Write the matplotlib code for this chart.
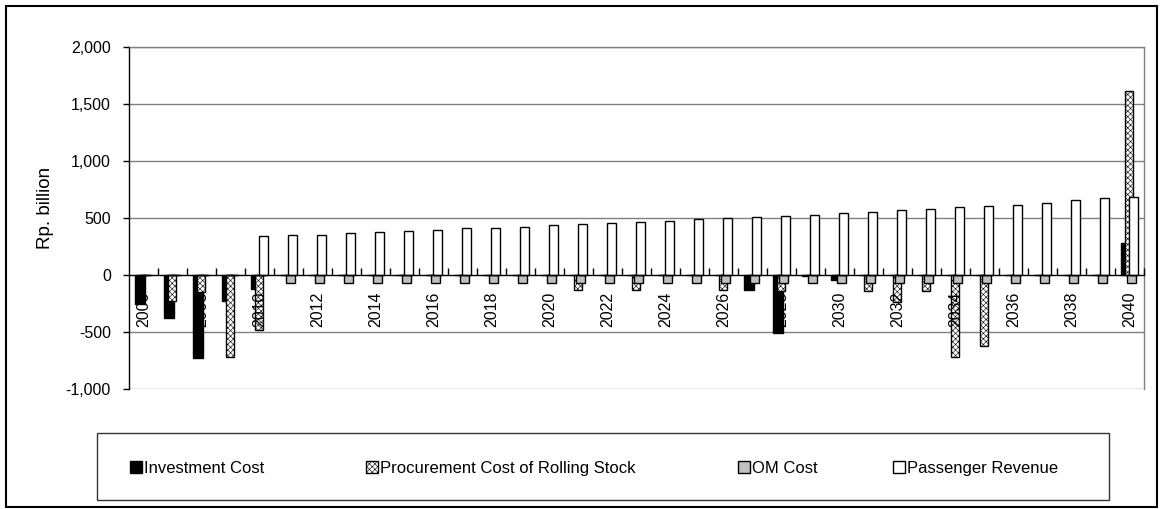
import matplotlib
matplotlib.use('Agg')
import matplotlib.pyplot as plt
from matplotlib import font_manager
from matplotlib.patches import Rectangle
import numpy as np

# ---------------- data ----------------
years = [2006, 2007, 2008, 2009, 2010, 2011, 2012, 2013, 2014, 2015,
         2016, 2017, 2018, 2019, 2020, 2021, 2022, 2023, 2024, 2025,
         2026, 2027, 2028, 2029, 2030, 2031, 2032, 2033, 2034, 2035,
         2036, 2037, 2038, 2039, 2040]

investment_cost = [-255, -375, -730, -230, -120, 0, 0, 0, 0, 0,
                   0, 0, 0, 0, 0, 0, 0, 0, 0, 0,
                   0, -130, -505, -10, -40, 0, 0, 0, 0, 0,
                   0, 0, 0, 0, 280]

procurement_cost = [0, -230, -145, -715, -480, 0, 0, 0, 0, 0,
                    0, 0, 0, 0, 0, -135, 0, -135, 0, 0,
                    -135, 0, -140, 0, 0, -140, -235, -140, -715, -620,
                    0, 0, 0, 0, 1615]

om_cost = [0, 0, 0, 0, 0, -70, -70, -70, -70, -70,
           -70, -70, -70, -70, -70, -70, -70, -70, -70, -70,
           -70, -70, -70, -70, -70, -70, -70, -70, -70, -70,
           -70, -70, -70, -70, -70]

passenger_revenue = [0, 0, 0, 0, 340, 352, 355, 368, 380, 383,
                     396, 408, 410, 423, 435, 450, 452, 462, 474, 488,
                     503, 508, 518, 530, 543, 555, 568, 582, 595, 605,
                     618, 632, 660, 674, 685]

series_names = ['Investment Cost', 'Procurement Cost of Rolling Stock',
                'OM Cost', 'Passenger Revenue']

x_tick_labels = ['2006', '2008', '2010', '2012', '2014', '2016', '2018',
                 '2020', '2022', '2024', '2026', '2028', '2030', '2032',
                 '2034', '2036', '2038', '2040']

y_ticks = [-1000, -500, 0, 500, 1000, 1500, 2000]
y_tick_labels = ['-1,000', '-500', '0', '500', '1,000', '1,500', '2,000']

# ---------------- style ----------------
avail = {f.name for f in font_manager.fontManager.ttflist}
REG = 'Liberation Sans' if 'Liberation Sans' in avail else 'DejaVu Sans'
if 'Liberation Sans Narrow' in avail:
    NARROW, NSIZE = 'Liberation Sans Narrow', 14
else:
    NARROW, NSIZE = REG, 11.5
plt.rcParams['font.family'] = [REG, 'DejaVu Sans']
plt.rcParams['hatch.linewidth'] = 0.4
narrow_fam = [NARROW, REG, 'DejaVu Sans']

W, H = 1162, 509
fig = plt.figure(figsize=(W / 100, H / 100), dpi=100)
fig.patch.set_facecolor('white')

def fx(px):
    return px / W

def fy(py):
    return 1 - py / H

ax_left, ax_right, ax_top, ax_bottom = 129, 1144, 47, 389
ax = fig.add_axes([fx(ax_left), fy(ax_bottom), fx(ax_right - ax_left),
                   (ax_bottom - ax_top) / H])
ax.set_facecolor('white')

styles = [
    dict(facecolor='black', edgecolor='black'),
    dict(facecolor='white', edgecolor='black', hatch='xxxxxx'),
    dict(facecolor='#c0c0c0', edgecolor='black'),
    dict(facecolor='white', edgecolor='black'),
]
offsets = [-0.13, -0.01, 0.055, 0.14]
widths = [0.34, 0.29, 0.31, 0.34]
values = [investment_cost, procurement_cost, om_cost, passenger_revenue]

x = np.arange(len(years))
for vals, st, off, wd in zip(values, styles, offsets, widths):
    ax.bar(x + off, vals, width=wd, linewidth=1.0, zorder=1, **st)

# grid lines
grid_color = '#808080'
for yv in y_ticks:
    if yv != 0:
        ax.axhline(yv, color=grid_color, linewidth=1.0, zorder=0.5)

ax.set_xlim(-0.5, len(years) - 0.5)
ax.set_ylim(-1000, 2000)
ax.set_axisbelow(False)

# spines
ax.spines['bottom'].set_position(('data', 0))
ax.spines['bottom'].set_color('black')
ax.spines['bottom'].set_linewidth(1.0)
ax.spines['left'].set_color('black')
ax.spines['left'].set_linewidth(1.0)
for s in ['top', 'right']:
    ax.spines[s].set_color(grid_color)
    ax.spines[s].set_linewidth(1.0)

# y axis
ax.set_yticks(y_ticks)
ax.set_yticklabels(y_tick_labels, family=narrow_fam, fontsize=NSIZE)
ax.tick_params(axis='y', direction='out', length=4, width=1, pad=9,
               colors='black')

# x axis
ax.set_xticks(x[::2])
ax.set_xticklabels(x_tick_labels, rotation=90, va='top', ha='center',
                   family=narrow_fam, fontsize=NSIZE)
ax.tick_params(axis='x', which='major', length=0, pad=12)
ax.set_xticks(np.arange(len(years)) + 0.5, minor=True)
ax.tick_params(axis='x', which='minor', direction='in', length=5, width=1,
               color='black')

fig.text(fx(45), fy(208), 'Rp. billion', rotation=90, ha='center',
         va='center', fontsize=13.5, family=[REG, 'DejaVu Sans'])

# legend (drawn manually)
fig.add_artist(Rectangle((fx(97), fy(500)), fx(1109 - 97), (500 - 433) / H,
                         transform=fig.transFigure, facecolor='white',
                         edgecolor='#333333', linewidth=1.0))
legend_x = [130, 366, 738, 893]
msz = 12
for name, st, lx in zip(series_names, styles, legend_x):
    fig.add_artist(Rectangle((fx(lx), fy(467 + msz / 2)), msz / W, msz / H,
                             transform=fig.transFigure, linewidth=1.0, **st))
    fig.text(fx(lx + msz + 2), fy(467), name, ha='left', va='center_baseline',
             fontsize=NSIZE + 0.5, family=narrow_fam)

# outer chart border
fig.add_artist(Rectangle((fx(6), fy(507)), fx(1157 - 6), (507 - 6) / H,
                         transform=fig.transFigure, facecolor='none',
                         edgecolor='black', linewidth=1.5))

fig.savefig('out.png', dpi=100)
